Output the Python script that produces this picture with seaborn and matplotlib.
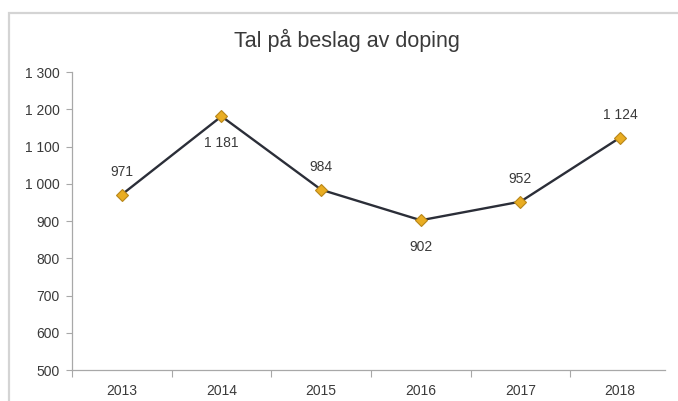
import matplotlib
matplotlib.use('Agg')
import matplotlib.pyplot as plt
import seaborn as sns
import pandas as pd
from matplotlib.patches import Rectangle
from matplotlib.ticker import FuncFormatter, FixedLocator

years = ['2013', '2014', '2015', '2016', '2017', '2018']
seizures = [971, 1181, 984, 902, 952, 1124]
label_pos = ['above', 'below', 'above', 'below', 'above', 'above']

sns.set_style('white')
plt.rcParams['font.family'] = ['Liberation Sans', 'DejaVu Sans']

df = pd.DataFrame({'year': years, 'count': seizures})

fig = plt.figure(figsize=(6.78, 4.01), dpi=100)
# grey chart frame (cut off at right/bottom like the screenshot)
fig.patches.append(Rectangle((9 / 678, -0.2), 1.0, 1.2 - 13 / 401, transform=fig.transFigure,
                             fill=False, edgecolor='#d4d4d4', linewidth=1.6))
ax = fig.add_axes([72 / 678, 1 - 370 / 401, (665 - 72) / 678, (370 - 72) / 401])

sns.lineplot(data=df, x='year', y='count', ax=ax, color='#2b2e38', linewidth=1.7,
             marker='D', markersize=6.5, markerfacecolor='#e9ad22',
             markeredgecolor='#b8861a', markeredgewidth=0.8, sort=False)

for i, (yr, v) in enumerate(zip(years, seizures)):
    dy = 23 if label_pos[i] == 'above' else -27
    txt = f'{v:,}'.replace(',', ' ')
    ax.annotate(txt, (i, v), xytext=(0, dy), textcoords='offset pixels',
                ha='center', va='center', fontsize=10, color='#3a3a3a')

ax.set_ylim(500, 1300)
ax.set_xlim(-0.5, 5.45)
ax.set_yticks(range(500, 1301, 100))
ax.yaxis.set_major_formatter(FuncFormatter(lambda v, p: f'{int(v):,}'.replace(',', ' ')))
ax.xaxis.set_minor_locator(FixedLocator([k - 0.5 for k in range(7)]))
ax.tick_params(axis='x', which='major', length=0, pad=10, labelsize=10, labelcolor='#3a3a3a')
ax.tick_params(axis='x', which='minor', length=5, width=0.8, color='#a8a8a8', direction='out', bottom=True)
ax.tick_params(axis='y', length=4, width=0.8, color='#a8a8a8', direction='out', left=True,
               labelsize=10, labelcolor='#3a3a3a', pad=5)

for s in ['top', 'right']:
    ax.spines[s].set_visible(False)
for s in ['left', 'bottom']:
    ax.spines[s].set_color('#a8a8a8')
    ax.spines[s].set_linewidth(0.9)

ax.set_xlabel('')
ax.set_ylabel('')
fig.text(347 / 678, 1 - 40 / 401, 'Tal på beslag av doping', ha='center', va='center',
         fontsize=15.5, color='#3a3a3a')

fig.savefig('out.png', dpi=100)
